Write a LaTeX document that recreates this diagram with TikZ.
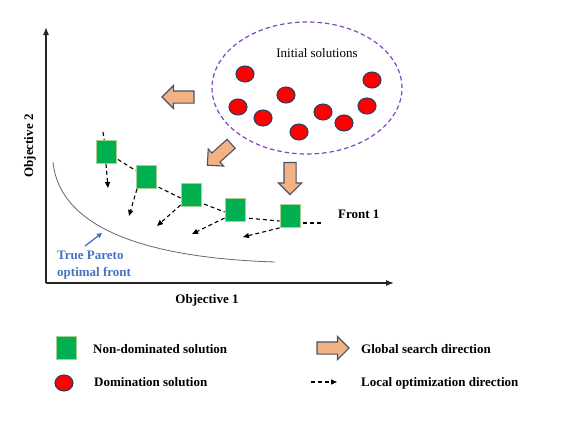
\documentclass[tikz,border=0pt]{standalone}
\usepackage{fontspec}
\setmainfont{Liberation Serif}
\usetikzlibrary{arrows.meta,shapes.geometric,shapes.arrows,backgrounds}
\definecolor{peach}{HTML}{F4B183}
\definecolor{slate}{HTML}{44546A}
\definecolor{sqgreen}{HTML}{00B050}
\definecolor{sqedge}{HTML}{A9D18E}
\definecolor{dotedge}{HTML}{2F3F5F}
\definecolor{ellpurple}{RGB}{128,70,195}
\definecolor{paretoblue}{HTML}{4472C4}
\begin{document}
\begin{tikzpicture}[x=1pt,y=-1pt,
  sol/.style={draw=sqedge,fill=sqgreen,line width=0.8pt,minimum width=20pt,minimum height=23pt,inner sep=0pt},
  dom/.style={ellipse,draw=dotedge,fill=red,line width=1.1pt,minimum width=18pt,minimum height=16pt,inner sep=0pt},
  garrow/.style={single arrow,draw=slate,fill=peach,line width=1.1pt,minimum width=22pt,minimum height=32pt,single arrow head extend=5.5pt,inner xsep=0pt,inner ysep=5.5pt},
  localarrow/.style={dash pattern=on 4pt off 3pt,line width=1.1pt,-{Triangle[length=6pt,width=5pt]}},
  linkline/.style={dash pattern=on 4pt off 3pt,line width=1.1pt},
  txt/.style={font=\fontsize{13}{15}\selectfont,inner sep=0pt},
  btxt/.style={font=\fontsize{13}{15}\selectfont\bfseries,inner sep=0pt},
  axisline/.style={line width=1.2pt,draw=black!85,-{Latex[length=8pt,width=6pt]}}
]
\useasboundingbox (0,0) rectangle (566,421);

% axes
\coordinate (O) at (46,283);
\coordinate (Ytop) at (46,27);
\coordinate (Xend) at (394,283);
\draw[axisline] (O) -- (Ytop);
\draw[axisline] (O) -- (Xend);
\node[btxt,rotate=90,anchor=base] (ylab) at (33,146) {Objective 2};
\node[btxt,anchor=base] (xlab) at (207,303) {Objective 1};

% initial solutions
\node[ellipse,draw=ellpurple,line width=1.2pt,dash pattern=on 4.5pt off 3pt,minimum width=190pt,minimum height=132pt] (init) at (307,88) {};
\node[txt,anchor=base] (initlbl) at (317,57) {Initial solutions};
\node[dom] (d1) at (245,74) {};
\node[dom] (d2) at (238,107) {};
\node[dom] (d3) at (263,118) {};
\node[dom] (d4) at (286,95) {};
\node[dom] (d5) at (299,132) {};
\node[dom] (d6) at (323,112) {};
\node[dom] (d7) at (344,123) {};
\node[dom] (d8) at (367,106) {};
\node[dom] (d9) at (372,80) {};

% global search arrows
\node[garrow,rotate=180] (g1) at (181,97) {};
\node[garrow,rotate=222] (g2) at (221.5,152.5) {};
\node[garrow,rotate=270] (g3) at (290,175.5) {};

% pareto front
\coordinate (p0) at (53,162);
\coordinate (p1) at (275,262);
\draw[black!60,line width=0.8pt] (p0) .. controls (60,230) and (150,258) .. (p1);
\node[btxt,text=paretoblue,anchor=base west] (tp1) at (57,259) {True Pareto};
\node[btxt,text=paretoblue,anchor=base west] (tp2) at (57,276) {optimal front};
\coordinate (ba0) at (85,246);
\coordinate (ba1) at (102,233);
\draw[paretoblue,line width=1.3pt,-{Triangle[length=5pt,width=5pt]}] (ba0) -- (ba1);

% front 1 squares
\node[sol] (S1) at (106,152) {};
\node[sol] (S2) at (146,177) {};
\node[sol] (S3) at (191,195) {};
\node[sol] (S4) at (235,210) {};
\node[sol] (S5) at (290,216) {};
\node[btxt,anchor=base west] (front) at (338,218) {Front 1};

\coordinate (s1top) at (103,132);
\coordinate (f1end) at (324,223);
\begin{scope}[on background layer]
  \draw[linkline] (s1top) -- (S1.center);
  \draw[linkline] (S1.center) -- (S2.center);
  \draw[linkline] ([yshift=-4pt]S2.center) -- ([yshift=-3pt]S3.west);
  \draw[linkline] ([yshift=-4pt]S3.center) -- ([yshift=-2pt]S4.west);
  \draw[linkline] ([yshift=-7pt]S4.center) -- ([yshift=-5pt]S5.west);
  \draw[linkline] ([yshift=-7pt,xshift=3pt]S5.east) -- (f1end);
\end{scope}

% local optimization arrows
\coordinate (l1) at (108,188);
\coordinate (l2) at (129,216);
\coordinate (l3) at (157,226);
\coordinate (l4) at (192,234);
\coordinate (l5) at (243,237);
\draw[localarrow] (S1.south) -- (l1);
\draw[localarrow] ([xshift=-9pt]S2.south) -- (l2);
\draw[localarrow] ([yshift=-10pt]S3.west) -- (l3);
\draw[localarrow] ([yshift=-8pt]S4.west) -- (l4);
\draw[localarrow] (S5.south west) -- (l5);

% legend
\node[sol] (legsq) at (66,348) {};
\node[btxt,anchor=base west] (legsqt) at (93,353) {Non-dominated solution};
\node[dom] (legdot) at (64,383) {};
\node[btxt,anchor=base west] (legdott) at (94,386) {Domination solution};
\node[garrow] (legarr) at (330,348) {};
\node[btxt,anchor=base west] (legarrt) at (361,353) {Global search direction};
\coordinate (lla) at (311,382);
\coordinate (llb) at (337,382);
\draw[localarrow] (lla) -- (llb);
\node[btxt,anchor=base west] (legloct) at (361,386) {Local optimization direction};
\end{tikzpicture}
\end{document}
